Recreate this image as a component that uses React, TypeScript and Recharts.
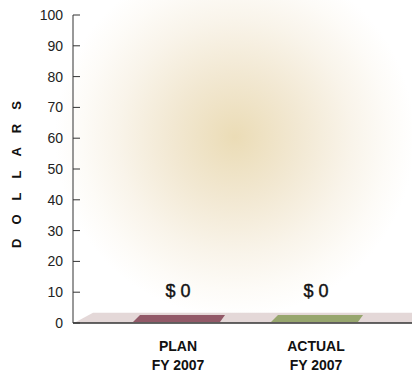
import { BarChart, Bar, XAxis, YAxis, LabelList, ReferenceArea } from 'recharts'

const categories = ['PLAN', 'ACTUAL']
const fiscalYears = ['FY 2007', 'FY 2007']
const amounts = [0, 0]
const barColors = ['#925968', '#97a66e']
const yTicks = [0, 10, 20, 30, 40, 50, 60, 70, 80, 90, 100]

const data = categories.map((name, i) => ({
  name,
  year: fiscalYears[i],
  value: amounts[i],
  color: barColors[i],
}))

const font = '"Liberation Sans", Arial, Helvetica, sans-serif'

const YTick = ({ x, y, payload }: any) => (
  <g>
    <text x={x - 1} y={y} dy={5} textAnchor="end" fontSize={14} fill="#222" fontFamily={font}>
      {payload.value}
    </text>
    <line x1={x + 9} x2={x + 16} y1={y} y2={y} stroke="#333" strokeWidth={1} />
  </g>
)

const XTick = ({ x, y, payload, index }: any) => (
  <g>
    <text x={x} y={y + 20} textAnchor="middle" fontSize={14} fontWeight="bold" fill="#111" fontFamily={font}>
      {payload.value}
    </text>
    <text x={x} y={y + 39} textAnchor="middle" fontSize={14} fontWeight="bold" fill="#111" fontFamily={font}>
      {fiscalYears[index]}
    </text>
  </g>
)

// flat parallelogram lying on the floor
const FlatBar = (props: any) => {
  const { x, y, width, height, payload } = props
  const base = y + (height || 0) - 1
  const pts = `${x - 2},${base} ${x + width - 1},${base} ${x + width + 4},${base - 7} ${x + 5},${base - 7}`
  return <polygon points={pts} fill={payload.color} />
}

// floor spans the full plot width, including the axis padding
const Floor = (props: any) => {
  const { x, y, width, height } = props
  const left = x - 36
  const right = x + width + 27
  const b = y + height
  const pts = `${left + 1},${b} ${right},${b} ${right},${y} ${left + 20},${y}`
  return <polygon points={pts} fill="#e4d8d8" />
}

const DollarLabel = ({ x, y, width, value }: any) => (
  <text
    x={x + width / 2}
    y={y - 26}
    textAnchor="middle"
    fontSize={18}
    fill="#111"
    stroke="#111"
    strokeWidth={0.4}
    fontFamily={font}
  >
    {`$ ${value}`}
  </text>
)

export default function App() {
  return (
    <div
      style={{
        position: 'absolute',
        left: 0,
        top: 0,
        width: 412,
        height: 376,
        background:
          'radial-gradient(circle 180px at 235px 137px, #ebdcb6 0%, #f2e8d2 35%, #f9f4ea 65%, #fdfbf7 85%, #ffffff 100%)',
      }}
    >
      <BarChart width={412} height={376} data={data} margin={{ top: 15, right: 0, bottom: 0, left: 0 }}>
        <ReferenceArea y1={0} y2={3.3} fill="#e4d8d8" ifOverflow="visible" shape={<Floor />} />
        <XAxis
          dataKey="name"
          height={53}
          padding={{ left: 36, right: 27 }}
          axisLine={{ stroke: '#333', strokeWidth: 1.5 }}
          tickLine={false}
          tick={<XTick />}
          interval={0}
        />
        <YAxis
          width={73}
          domain={[0, 100]}
          ticks={yTicks}
          tickSize={0}
          tickMargin={9}
          tickLine={false}
          axisLine={{ stroke: '#333' }}
          tick={<YTick />}
          interval={0}
          label={(
            <text
              x={28}
              y={176}
              transform="rotate(-90 28 176)"
              textAnchor="middle"
              fontSize={13}
              fontWeight="bold"
              letterSpacing={14}
              fill="#111"
              fontFamily={font}
            >
              DOLLARS
            </text>
          ) as any}
        />
        <Bar dataKey="value" barSize={86} shape={<FlatBar />} isAnimationActive={false}>
          <LabelList dataKey="value" content={<DollarLabel />} />
        </Bar>
      </BarChart>
    </div>
  )
}
